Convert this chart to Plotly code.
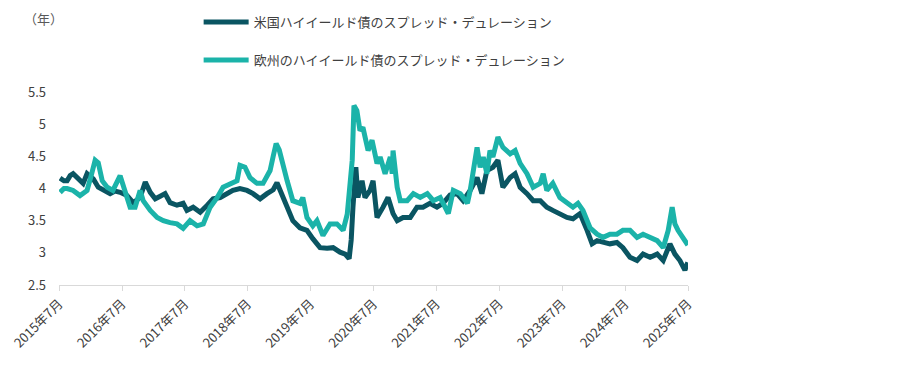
import plotly.graph_objects as go

# 米国ハイイールド債のスプレッド・デュレーション
us_dates = ["2015-07-07","2015-07-30","2015-08-17","2015-09-04","2015-09-21","2015-10-20","2015-11-18","2015-12-11","2015-12-29",
"2016-01-16","2016-02-14","2016-03-13","2016-04-23","2016-05-22","2016-06-20","2016-07-30","2016-09-04","2016-10-14","2016-11-13","2016-12-12",
"2017-01-10","2017-02-08","2017-03-08","2017-04-06","2017-05-16","2017-06-21","2017-07-13","2017-08-18","2017-09-28","2017-11-08","2017-12-12",
"2018-01-22","2018-03-02","2018-04-06","2018-05-17","2018-06-27","2018-08-01","2018-09-11","2018-10-21","2018-11-26","2018-12-18",
"2019-01-05","2019-02-15","2019-03-20","2019-04-30","2019-06-10","2019-07-14","2019-08-25","2019-10-05","2019-11-09","2019-12-19",
"2020-01-18","2020-02-10","2020-02-22","2020-03-03","2020-03-20","2020-04-01","2020-04-25","2020-05-12","2020-06-10","2020-06-28","2020-07-21",
"2020-08-25","2020-09-23","2020-10-22","2020-11-15","2020-12-19",
"2021-01-30","2021-03-10","2021-04-14","2021-05-24","2021-07-04","2021-08-08","2021-09-18","2021-10-29","2021-12-03",
"2022-01-13","2022-02-22","2022-03-22","2022-04-20","2022-05-25","2022-06-23","2022-07-22","2022-09-02","2022-10-01","2022-10-30","2022-12-09",
"2023-01-14","2023-02-24","2023-04-03","2023-05-08","2023-06-18","2023-07-29","2023-09-02","2023-10-13","2023-11-23","2023-12-22",
"2024-01-20","2024-02-24","2024-04-04","2024-05-14","2024-06-18","2024-07-29","2024-09-08","2024-10-13","2024-11-23",
"2025-01-03","2025-02-07","2025-03-18","2025-04-16","2025-05-15","2025-06-13","2025-06-30"]
us_values = [4.16,4.12,4.12,4.20,4.23,4.15,4.08,4.23,4.20,
4.15,4.02,3.97,3.92,3.96,3.94,3.89,3.78,3.86,4.10,3.94,
3.84,3.88,3.92,3.78,3.74,3.77,3.66,3.71,3.63,3.74,3.84,
3.86,3.92,3.97,4.00,3.97,3.92,3.84,3.92,3.98,4.09,
3.97,3.74,3.50,3.39,3.35,3.22,3.08,3.07,3.08,3.01,
2.98,2.91,3.20,3.70,4.33,3.86,4.12,3.86,3.97,4.12,3.55,
3.71,3.86,3.61,3.50,3.55,
3.55,3.71,3.71,3.77,3.71,3.77,3.90,3.92,3.81,
3.97,4.17,3.92,4.28,4.33,4.44,4.02,4.17,4.23,4.02,3.92,
3.81,3.81,3.71,3.66,3.61,3.55,3.53,3.61,3.35,3.14,
3.19,3.16,3.14,3.16,3.08,2.93,2.88,2.98,2.93,
2.98,2.88,3.14,2.98,2.88,2.73,2.85]

# 欧州のハイイールド債のスプレッド・デュレーション
eu_dates = ["2015-07-07","2015-07-30","2015-08-17","2015-09-21","2015-10-31","2015-12-11",
"2016-01-04","2016-01-27","2016-02-14","2016-03-08","2016-04-06","2016-05-09","2016-06-20","2016-07-18","2016-08-17","2016-09-15","2016-10-14","2016-11-01","2016-12-12",
"2017-01-21","2017-02-26","2017-04-06","2017-05-16","2017-06-21","2017-07-31","2017-09-10","2017-10-16","2017-11-25",
"2018-01-05","2018-02-08","2018-03-21","2018-04-30","2018-05-17","2018-06-15","2018-07-14","2018-08-24","2018-09-28","2018-11-08","2018-11-26","2018-12-13","2018-12-31",
"2019-01-17","2019-02-15","2019-03-20","2019-04-30","2019-05-17","2019-06-10","2019-07-14","2019-08-07","2019-09-11","2019-10-22","2019-12-01","2019-12-19",
"2020-01-06","2020-01-30","2020-02-16","2020-02-28","2020-03-09","2020-03-26","2020-04-13","2020-04-30","2020-05-30","2020-06-22","2020-07-21","2020-08-08",
"2020-09-06","2020-10-06","2020-10-17","2020-10-22","2020-11-15","2020-12-03",
"2021-01-12","2021-02-17","2021-03-29","2021-05-09","2021-06-13","2021-07-23","2021-09-08","2021-10-07","2021-11-17","2021-12-28",
"2022-01-13","2022-02-22","2022-03-12","2022-03-30","2022-04-20","2022-05-08","2022-05-25","2022-06-23","2022-07-22","2022-09-02","2022-10-01","2022-10-30","2022-12-09",
"2023-01-14","2023-02-24","2023-03-13","2023-04-03","2023-05-08","2023-06-18","2023-07-29","2023-09-02","2023-10-01","2023-10-30","2023-12-10",
"2024-01-20","2024-02-24","2024-04-04","2024-05-14","2024-06-18","2024-07-29","2024-09-08","2024-10-13","2024-11-23",
"2025-01-03","2025-02-07","2025-03-08","2025-03-31","2025-04-16","2025-05-04","2025-06-02","2025-06-30"]
eu_values = [3.94,4.00,4.00,3.97,3.89,3.97,
4.20,4.44,4.40,4.12,4.02,3.97,4.20,3.97,3.71,3.71,3.97,3.81,3.66,
3.55,3.50,3.47,3.45,3.38,3.50,3.42,3.45,3.71,
3.86,4.02,4.08,4.12,4.36,4.33,4.17,4.08,4.08,4.28,4.50,4.70,4.60,
4.39,4.12,3.81,3.77,3.86,3.55,3.42,3.50,3.27,3.45,3.45,3.39,
3.35,3.60,4.00,4.44,5.29,5.21,4.90,4.95,4.59,4.75,4.39,4.49,
4.23,4.49,4.23,4.59,4.02,3.81,
3.81,3.92,3.86,3.92,3.81,3.86,3.61,3.97,3.92,3.77,
3.97,4.64,4.33,4.49,4.23,4.59,4.49,4.80,4.64,4.54,4.59,4.39,4.23,
4.02,4.08,4.23,3.97,4.08,3.86,3.77,3.71,3.77,3.66,3.39,
3.29,3.24,3.29,3.29,3.35,3.35,3.24,3.29,3.24,
3.19,3.08,3.35,3.71,3.45,3.35,3.24,3.12]

tick_dates = ["2015-07-01","2016-07-01","2017-07-01","2018-07-01","2019-07-01","2020-07-01",
              "2021-07-01","2022-07-01","2023-07-01","2024-07-01","2025-07-01"]
tick_labels = ["2015年7月","2016年7月","2017年7月","2018年7月","2019年7月","2020年7月",
               "2021年7月","2022年7月","2023年7月","2024年7月","2025年7月"]
y_ticks = [2.5, 3, 3.5, 4, 4.5, 5, 5.5]
y_labels = ["2.5", "3", "3.5", "4", "4.5", "5", "5.5"]

DARK = "#0A5562"
TEAL = "#1BB3A9"
FONT = "Noto Sans CJK JP"

fig = go.Figure()
fig.add_trace(go.Scatter(x=us_dates, y=us_values, mode="lines", name="米国ハイイールド債のスプレッド・デュレーション",
                         line=dict(color=DARK, width=5), legendgroup="us"))
fig.add_trace(go.Scatter(x=eu_dates, y=eu_values, mode="lines", name="欧州のハイイールド債のスプレッド・デュレーション",
                         line=dict(color=TEAL, width=5), legendgroup="eu"))

fig.update_layout(
    width=910, height=363,
    margin=dict(l=51, r=230, t=84, b=86, autoexpand=False),
    paper_bgcolor="white", plot_bgcolor="white",
    font=dict(family=FONT, size=13, color="#595959"),
    showlegend=True,
    legend=dict(x=0.222, y=1.44, xanchor="left", yanchor="top", itemwidth=45,
                orientation="v", tracegroupgap=18, font=dict(size=13, color="#404040"),
                bgcolor="rgba(0,0,0,0)"),
    annotations=[dict(text="（年）", x=-0.024, y=1.0, xref="paper", yref="paper", yshift=62,
                      xanchor="center", yanchor="bottom", showarrow=False,
                      font=dict(size=13, color="#595959"))],
)
fig.update_xaxes(type="date", range=["2015-07-01", "2025-07-01"], tickmode="array",
                 tickvals=tick_dates, ticktext=tick_labels, tickangle=-45,
                 tickfont=dict(size=13, color="#404040"),
                 showgrid=False, showline=True, linecolor="#D9D9D9", linewidth=1,
                 ticks="outside", ticklen=5, tickcolor="#D9D9D9", zeroline=False)
fig.update_yaxes(range=[2.5, 5.5], tickmode="array", tickvals=y_ticks, ticktext=y_labels,
                 tickfont=dict(size=13, color="#404040"),
                 showgrid=False, showline=False, zeroline=False, ticks="", ticklabelstandoff=12)

fig.write_html("out.html")
